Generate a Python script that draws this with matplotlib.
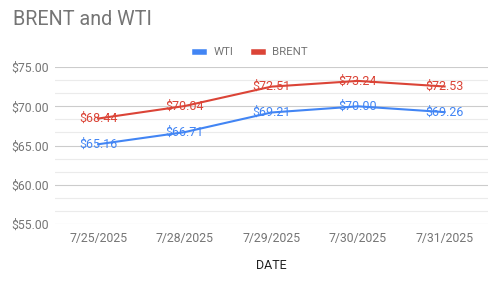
import matplotlib
matplotlib.use("Agg")
import matplotlib.pyplot as plt
import matplotlib.ticker as mticker

plt.rcParams["font.family"] = ["Roboto", "DejaVu Sans"]

# ── Data ──────────────────────────────────────────────────────────────────────
dates = ["7/25/2025", "7/28/2025", "7/29/2025", "7/30/2025", "7/31/2025"]
wti   = [65.16, 66.71, 69.21, 70.00, 69.26]
brent = [68.44, 70.04, 72.51, 73.24, 72.53]

C_WTI   = "#4285F4"
C_BRENT = "#DB4437"
GRAY    = "#757575"

fig = plt.figure(figsize=(5.03, 2.82), dpi=100)
ax = fig.add_axes([0.109, 0.206, 0.861, 0.556])

x = list(range(len(dates)))
ax.plot(x, wti, color=C_WTI, lw=1.5, label="WTI", zorder=3)
ax.plot(x, brent, color=C_BRENT, lw=1.5, label="BRENT", zorder=3)

for xi, v in zip(x, wti):
    ax.text(xi, v, f"${v:.2f}", color=C_WTI, fontsize=9,
            ha="center", va="center", zorder=4)
for xi, v in zip(x, brent):
    ax.text(xi, v, f"${v:.2f}", color=C_BRENT, fontsize=9,
            ha="center", va="center", zorder=4)

ax.set_xlim(-0.5, len(dates) - 0.5)
ax.set_ylim(55, 75)
ax.set_xticks(x)
ax.set_xticklabels(dates)
ax.yaxis.set_major_locator(mticker.MultipleLocator(5))
ax.yaxis.set_minor_locator(mticker.MultipleLocator(5 / 3))
ax.yaxis.set_major_formatter(mticker.FuncFormatter(lambda v, _: f"${v:.2f}"))
ax.grid(axis="y", which="major", color="#cccccc", lw=0.8)
ax.grid(axis="y", which="minor", color="#ebebeb", lw=0.8)
ax.set_axisbelow(True)
ax.tick_params(axis="both", which="both", length=0, colors=GRAY, labelsize=8.8)
ax.tick_params(axis="x", pad=6)
ax.tick_params(axis="y", pad=4)
for s in ax.spines.values():
    s.set_visible(False)

ax.set_xlabel("DATE", fontsize=9, color="#222222", labelpad=10)

fig.text(0.026, 0.932, "BRENT and WTI", fontsize=14.2, color=GRAY,
         ha="left", va="center")

leg = fig.legend(loc="center", bbox_to_anchor=(0.5, 0.815), ncol=2,
                 frameon=False, fontsize=8.2, handlelength=0.8,
                 handleheight=0.5, columnspacing=1.8, handletextpad=0.8)
for h in leg.legend_handles:
    h.set_linewidth(4)
for t in leg.get_texts():
    t.set_color(GRAY)

fig.savefig("out.png", dpi=100)
